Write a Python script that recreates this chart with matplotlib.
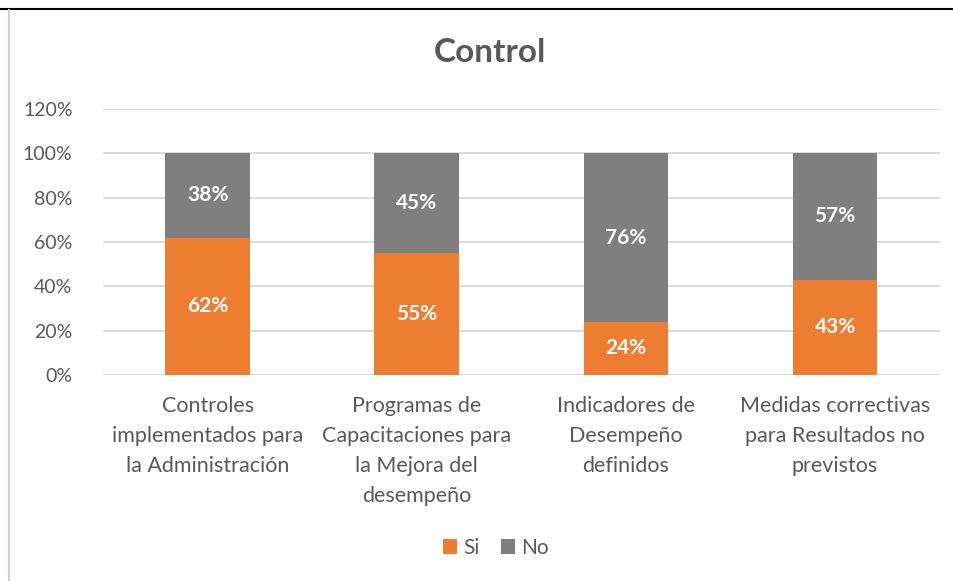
import numpy as np
import matplotlib.pyplot as plt
from matplotlib.lines import Line2D

categories = ["Controles\nimplementados para\nla Administración",
              "Programas de\nCapacitaciones para\nla Mejora del\ndesempeño",
              "Indicadores de\nDesempeño\ndefinidos",
              "Medidas correctivas\npara Resultados no\nprevistos"]
si = [0.62, 0.55, 0.24, 0.43]
no = [0.38, 0.45, 0.76, 0.57]
yticks = [0, 0.2, 0.4, 0.6, 0.8, 1.0, 1.2]

orange = '#ED7D31'
gray = '#7F7F7F'
txt = '#595959'

plt.rcParams['font.family'] = ['Lato', 'DejaVu Sans']

fig = plt.figure(figsize=(9.54, 5.81), dpi=100)
ax = fig.add_axes([0.108, 0.3546, 0.877, 0.4578])

x = np.arange(len(categories))
w = 0.405
b1 = ax.bar(x, si, w, color=orange, label='Si', zorder=3)
b2 = ax.bar(x, no, w, bottom=si, color=gray, label='No', zorder=3)

for i in range(len(x)):
    ax.text(x[i], si[i] / 2, f"{si[i]:.0%}", ha='center', va='center',
            color='white', fontsize=15, fontweight='bold', zorder=4)
    ax.text(x[i], si[i] + no[i] / 2, f"{no[i]:.0%}", ha='center', va='center',
            color='white', fontsize=15, fontweight='bold', zorder=4)

ax.set_xlim(-0.5, 3.5)
ax.set_ylim(0, 1.2)
ax.set_yticks(yticks)
ax.set_yticklabels([f"{t:.0%}" for t in yticks], fontsize=14, color=txt)
ax.set_xticks(x)
ax.set_xticklabels(categories, fontsize=15.5, color=txt, linespacing=1.63, va='top')
ax.tick_params(length=0)
ax.tick_params(axis='x', pad=15)
ax.tick_params(axis='y', pad=22)
ax.grid(axis='y', color='#D9D9D9', linewidth=1.3, zorder=0)
for s in ax.spines.values():
    s.set_visible(False)
ax.axhline(0, color='#D9D9D9', linewidth=1.3, zorder=2)

fig.text(490 / 954, 1 - 53 / 581, 'Control', ha='center', va='center',
         fontsize=24, fontweight='bold', color=txt)

fig.legend(handles=[b1, b2], loc='center', bbox_to_anchor=(496 / 954, 1 - 548 / 581), ncol=2,
           frameon=False, fontsize=15, labelcolor=txt, handlelength=0.7,
           handleheight=0.7, handletextpad=0.3, columnspacing=1.0)

# page frame from the document
fig.add_artist(Line2D([0, 1], [1 - 9 / 581, 1 - 9 / 581], color='black', linewidth=1.5))
fig.add_artist(Line2D([9 / 954, 9 / 954], [0, 1 - 10 / 581], color='#D0D0D0', linewidth=1.5))

fig.savefig('out.png', dpi=100)
